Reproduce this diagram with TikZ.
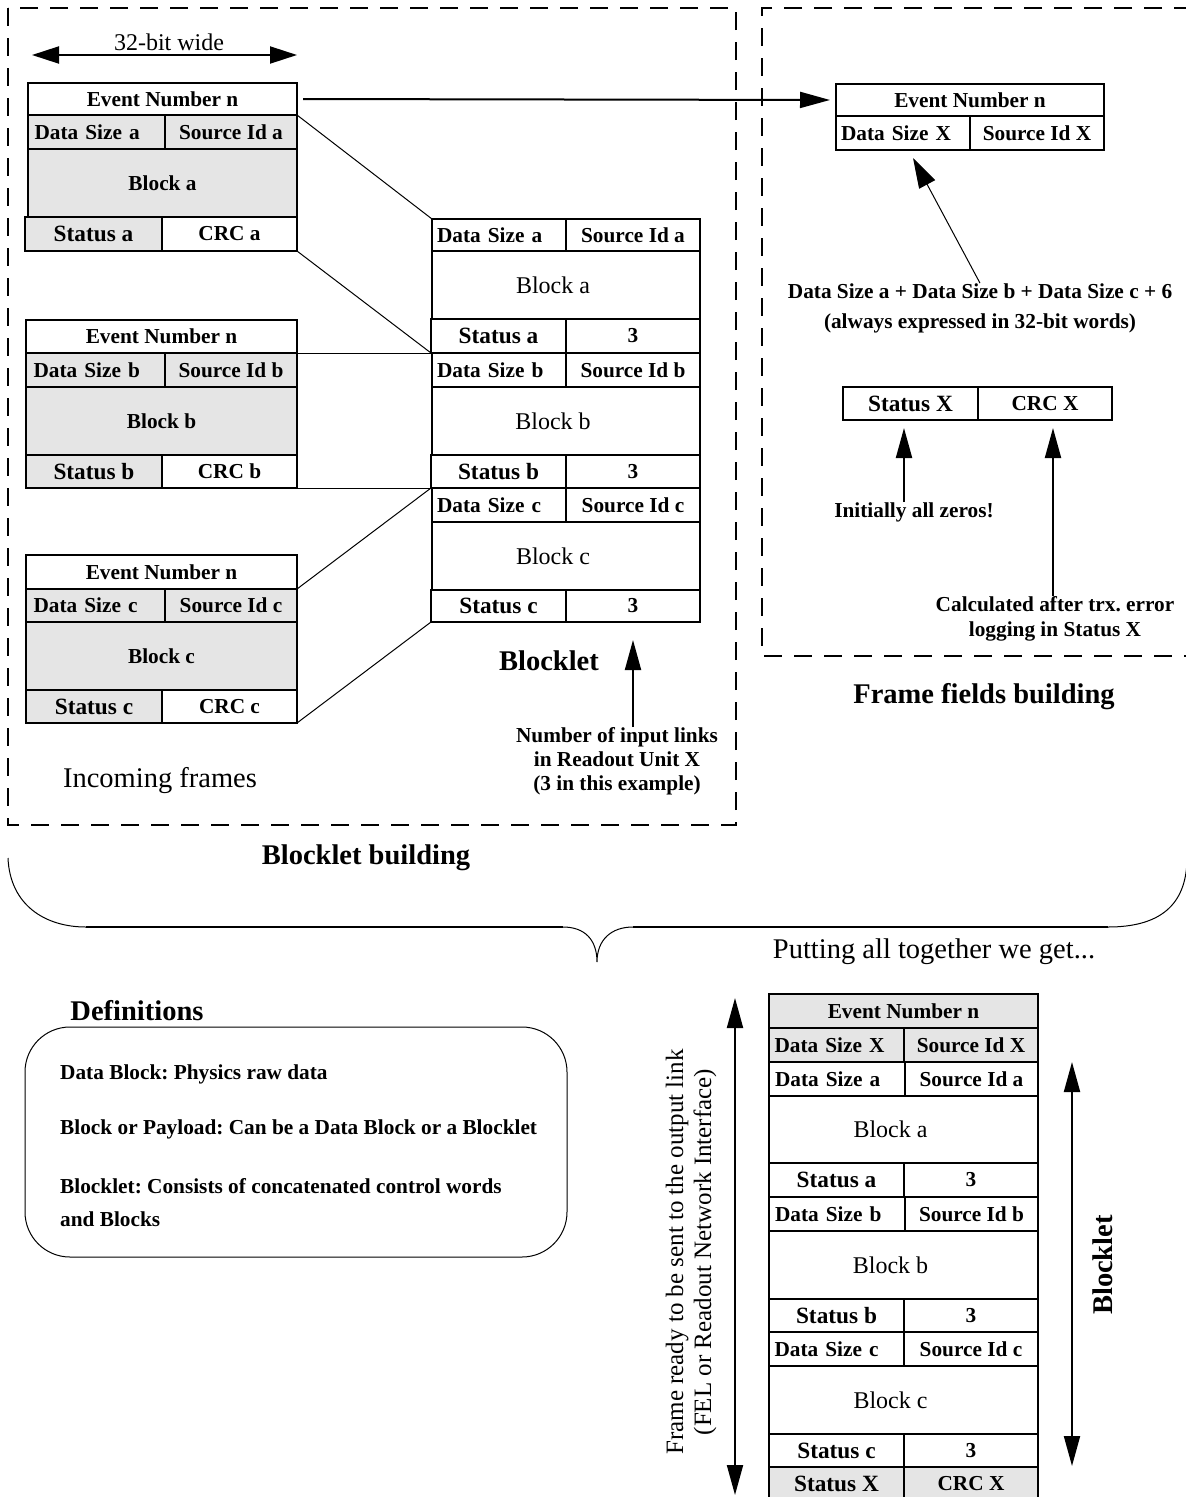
\documentclass[tikz,border=0pt]{standalone}
\usepackage{fontspec}
\setmainfont{Liberation Serif}
\usetikzlibrary{arrows.meta}
\definecolor{cellgray}{gray}{0.9}
\frenchspacing
\newcommand\cellf{\bfseries\fontsize{21.3}{25}\selectfont}
\newcommand\statf{\bfseries\fontsize{23.3}{27}\selectfont}
\newcommand\blockf{\fontsize{24}{28}\selectfont}
\newcommand\titlef{\bfseries\fontsize{28.5}{33}\selectfont}
\newcommand\notef{\bfseries\fontsize{21.3}{24}\selectfont}
\newcommand\plainf{\fontsize{28.5}{33}\selectfont}
% one field of a frame: [options]{name}{left}{top}{width}{height}{text}
\newcommand\fcell[7][]{\node[cell,minimum width=#5pt,minimum height=#6pt,#1] (#2) at (#3,#4) {#7};}

\begin{document}
\begin{tikzpicture}[x=1pt,y=-1pt,
  cell/.style={draw,line width=2pt,anchor=north west,inner sep=0pt,outer sep=0pt,font=\cellf},
  shaded/.style={fill=cellgray},
  dsz/.style={text width=124pt,align=left},
  stat/.style={font=\statf},
  blk/.style={font=\blockf,execute at begin node={\kern-26pt}},
  link/.style={line width=1pt},
  bigarr/.style={line width=2pt,-{Triangle[length=30pt,width=16pt]}},
  dblarr/.style={line width=2pt,{Triangle[length=30pt,width=16pt]}-{Triangle[length=30pt,width=16pt]}},
  zone/.style={line width=2pt,dash pattern=on 18pt off 12pt},
  title/.style={font=\titlef,inner sep=0pt},
  note/.style={font=\notef,align=center,inner sep=0pt},
]
\useasboundingbox[fill=white] (0,0) rectangle (1186,1497);

% dashed working areas
\draw[zone] (8,8) rectangle (736,825);
\draw[zone] (1192,8) -- (762,8) -- (762,656) -- (1192,656);

% word width
\coordinate (wl) at (32,55);
\coordinate (wr) at (297,55);
\draw[line width=2pt,{Triangle[length=27pt,width=17pt]}-{Triangle[length=27pt,width=17pt]}] (wl) -- (wr);
\node[font=\blockf,inner sep=0pt,anchor=base] (wtxt) at (169,50) {32-bit wide};

% incoming frame a
\fcell{fa-en}{28}{83}{269}{32}{Event Number n}
\fcell[shaded,dsz]{fa-ds}{28}{115}{137}{34}{Data Size a}
\fcell[shaded]{fa-si}{165}{115}{132}{34}{Source Id a}
\fcell[shaded]{fa-bk}{28}{149}{269}{68}{Block a}
\fcell[shaded,stat]{fa-st}{25}{217}{137}{34}{Status a}
\fcell{fa-crc}{162}{217}{135}{34}{CRC a}

% incoming frame b
\fcell{fb-en}{26}{320}{271}{33}{Event Number n}
\fcell[shaded,dsz]{fb-ds}{26}{353}{139}{34}{Data Size b}
\fcell[shaded]{fb-si}{165}{353}{132}{34}{Source Id b}
\fcell[shaded]{fb-bk}{26}{387}{271}{68}{Block b}
\fcell[shaded,stat]{fb-st}{26}{455}{136}{33}{Status b}
\fcell{fb-crc}{162}{455}{135}{33}{CRC b}

% incoming frame c
\fcell{fc-en}{26}{555}{271}{34}{Event Number n}
\fcell[shaded,dsz]{fc-ds}{26}{589}{139}{33}{Data Size c}
\fcell[shaded]{fc-si}{165}{589}{132}{33}{Source Id c}
\fcell[shaded]{fc-bk}{26}{622}{271}{68}{Block c}
\fcell[shaded,stat]{fc-st}{26}{690}{136}{33}{Status c}
\fcell{fc-crc}{162}{690}{135}{33}{CRC c}

% blocklet
\fcell[dsz]{bl-dsa}{432}{219}{134}{32}{Data Size a}
\fcell{bl-sia}{566}{219}{134}{32}{Source Id a}
\fcell[blk]{bl-bka}{432}{251}{268}{68}{Block a}
\fcell[stat]{bl-sta}{431}{319}{135}{34}{Status a}
\fcell{bl-3a}{566}{319}{134}{34}{3}
\fcell[dsz]{bl-dsb}{432}{353}{134}{34}{Data Size b}
\fcell{bl-sib}{566}{353}{134}{34}{Source Id b}
\fcell[blk]{bl-bkb}{432}{387}{268}{68}{Block b}
\fcell[stat]{bl-stb}{431}{455}{135}{33}{Status b}
\fcell{bl-3b}{566}{455}{134}{33}{3}
\fcell[dsz]{bl-dsc}{432}{488}{134}{34}{Data Size c}
\fcell{bl-sic}{566}{488}{134}{34}{Source Id c}
\fcell[blk]{bl-bkc}{432}{522}{268}{68}{Block c}
\fcell[stat]{bl-stc}{431}{590}{135}{32}{Status c}
\fcell{bl-3c}{566}{590}{134}{32}{3}

% frames feeding the blocklet
\draw[link] (fa-en.south east) -- (bl-dsa.north west);
\draw[link] (fa-crc.south east) -- (bl-sta.south west);
\draw[link] (fb-en.south east) -- (bl-sta.south west);
\draw[link] (fb-crc.south east) -- (bl-stb.south west);
\draw[link] (fc-en.south east) -- (bl-stb.south west);
\draw[link] (fc-crc.south east) -- (bl-stc.south west);

\node[title] (bltitle) at (549,661) {Blocklet};
\node[note,font={\bfseries\fontsize{21.3}{24}\selectfont}] (nil) at (617,761)
  {Number of input links\\in Readout Unit X\\(3 in this example)};
\draw[bigarr] ([xshift=16pt]nil.north) -- ([yshift=-18pt]bl-3c.south);
\node[font=\plainf,inner sep=0pt] (incoming) at (160,781) {Incoming frames};
\node[title] (bbtitle) at (366,858) {Blocklet building};

% frame fields
\fcell{ff-en}{836}{84}{268}{32}{Event Number n}
\fcell[dsz]{ff-ds}{836}{116}{134}{34}{Data Size X}
\fcell{ff-si}{970}{116}{134}{34}{Source Id X}
\fcell[stat]{ff-st}{843}{387}{135}{33}{Status X}
\fcell{ff-crc}{978}{387}{134}{33}{CRC X}

\draw[bigarr,shorten <=6pt,shorten >=6pt] (fa-en.east) -- (ff-en.west);

\node[note,font={\bfseries\fontsize{21.3}{30}\selectfont}] (sum) at (980,308)
  {Data Size a + Data Size b + Data Size c + 6\\(always expressed in 32-bit words)};
\draw[link,-{Triangle[length=30pt,width=18pt]}] (sum.north) -- ([xshift=10pt,yshift=-8pt]ff-ds.south);

\node[note] (zeros) at (914,512) {Initially all zeros!};
\draw[bigarr] ([xshift=-10pt]zeros.north) -- ([xshift=-6.5pt,yshift=-8pt]ff-st.south);

\node[note,font={\bfseries\fontsize{21.3}{25}\selectfont}] (calc) at (1055,619)
  {Calculated after trx. error\\logging in Status X};
\draw[bigarr] ([xshift=-2pt]calc.north) -- ([xshift=8pt,yshift=-8pt]ff-crc.south);

\node[title] (fftitle) at (984,697) {Frame fields building};

% brace gathering both areas
\coordinate (brL) at (8,858);
\coordinate (brL2) at (86,927);
\coordinate (brM1) at (563,927);
\coordinate (brTip) at (597,962);
\coordinate (brM2) at (633,927);
\coordinate (brR2) at (1108,927);
\coordinate (brR) at (1187,860);
\draw[line width=1pt] (brL) .. controls (10,905) and (45,927) .. (brL2);
\draw[line width=2pt] (brL2) -- (brM1);
\draw[line width=1pt] (brM1) .. controls (585,927) and (597,940) .. (brTip)
  .. controls (597,940) and (611,927) .. (brM2);
\draw[line width=2pt] (brM2) -- (brR2);
\draw[line width=1pt] (brR2) .. controls (1160,927) and (1186,905) .. (brR);

\node[font=\plainf,inner sep=0pt] (together) at (934,952) {Putting all together we get...};

% definitions
\node[title] (deftitle) at (137,1011) {Definitions};
\node[draw,line width=1pt,rounded corners=45pt,minimum width=542pt,minimum height=230pt,
  inner sep=0pt,outer sep=0pt] (defbox) at (296,1142) {};
\node[font=\notef,anchor=west,inner sep=0pt] (def1) at (60,1074) {Data Block: Physics raw data};
\node[font=\notef,anchor=west,inner sep=0pt] (def2) at (60,1129) {Block or Payload: Can be a Data Block or a Blocklet};
\node[font=\notef,anchor=west,inner sep=0pt] (def3) at (60,1186) {Blocklet: Consists of concatenated control words};
\node[font=\notef,anchor=west,inner sep=0pt] (def4) at (60,1219) {and Blocks};

% complete frame
\fcell[shaded]{fr-en}{769}{994}{269}{34}{Event Number n}
\fcell[shaded,dsz]{fr-dsx}{769}{1028}{135}{34}{Data Size X}
\fcell[shaded]{fr-six}{904}{1028}{134}{34}{Source Id X}
\fcell[dsz]{fr-dsa}{769}{1062}{136}{34}{Data Size a}
\fcell{fr-sia}{905}{1062}{133}{34}{Source Id a}
\fcell[blk]{fr-bka}{769}{1096}{269}{67}{Block a}
\fcell[stat]{fr-sta}{769}{1163}{135}{34}{Status a}
\fcell{fr-3a}{904}{1163}{134}{34}{3}
\fcell[dsz]{fr-dsb}{769}{1197}{136}{34}{Data Size b}
\fcell{fr-sib}{905}{1197}{133}{34}{Source Id b}
\fcell[blk]{fr-bkb}{769}{1231}{269}{68}{Block b}
\fcell[stat]{fr-stb}{769}{1299}{135}{33}{Status b}
\fcell{fr-3b}{904}{1299}{134}{33}{3}
\fcell[dsz]{fr-dsc}{769}{1332}{135}{34}{Data Size c}
\fcell{fr-sic}{904}{1332}{134}{34}{Source Id c}
\fcell[blk]{fr-bkc}{769}{1366}{269}{68}{Block c}
\fcell[stat]{fr-stc}{769}{1434}{135}{33}{Status c}
\fcell{fr-3c}{904}{1434}{134}{33}{3}
\fcell[shaded,stat]{fr-stx}{769}{1467}{135}{34}{Status X}
\fcell[shaded]{fr-crcx}{904}{1467}{134}{34}{CRC X}

\coordinate (ftop) at (735,998);
\coordinate (fbot) at (735,1495);
\draw[dblarr] (ftop) -- (fbot);
\node[rotate=90,align=center,inner sep=0pt,font=\fontsize{25}{28}\selectfont] (ready) at (691,1252)
  {Frame ready to be sent to the output link\\(FEL or Readout Network Interface)};

\coordinate (btop) at (1072,1062);
\coordinate (bbot) at (1072,1466);
\draw[dblarr] (btop) -- (bbot);
\node[title,rotate=90] (bltitle2) at (1103,1265) {Blocklet};

\end{tikzpicture}
\end{document}
